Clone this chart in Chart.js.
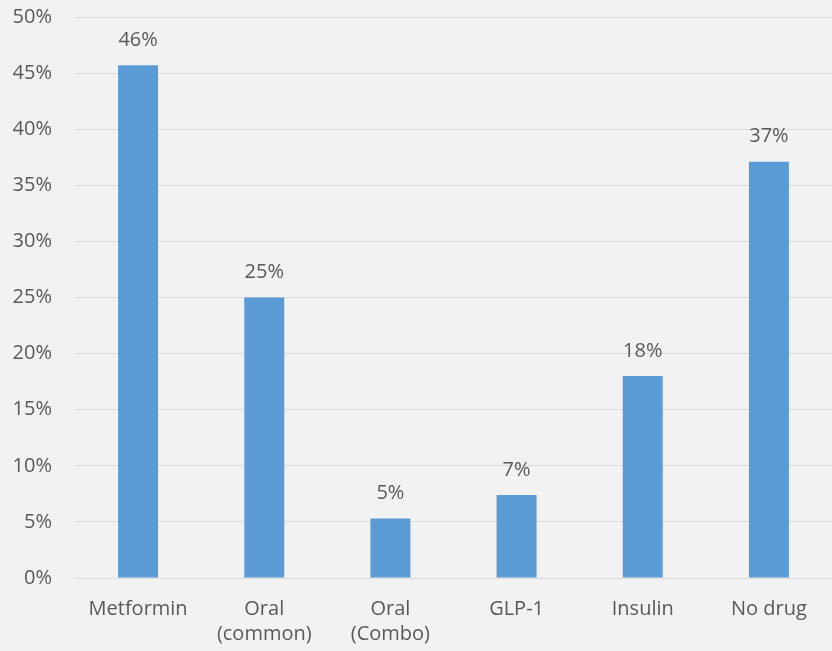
<!DOCTYPE html>
<html>
<head>
<meta charset="utf-8">
<script src="https://cdn.jsdelivr.net/npm/chart.js@4/dist/chart.umd.min.js"></script>
<style>
  html, body { margin: 0; padding: 0; background: #f2f2f2; }
  #wrap { width: 832px; height: 651px; }
</style>
</head>
<body>
<div id="wrap"><canvas id="c" width="832" height="651"></canvas></div>
<script>
// Share of patients by diabetes drug class
const categories = ['Metformin', ['Oral', '(common)'], ['Oral', '(Combo)'], 'GLP-1', 'Insulin', 'No drug'];
const shares = [45.7, 25.0, 5.3, 7.4, 18.0, 37.1];
const yTicks = [0, 5, 10, 15, 20, 25, 30, 35, 40, 45, 50];

const textColor = '#595959';
const fontFamily = '"Open Sans", "Noto Sans", sans-serif';
const fontSize = 20;

// Paint the panel background
const background = {
  id: 'background',
  beforeDraw(chart) {
    const ctx = chart.ctx;
    ctx.save();
    ctx.fillStyle = '#f2f2f2';
    ctx.fillRect(0, 0, chart.width, chart.height);
    ctx.restore();
  }
};

// Percentage labels above each bar
const valueLabels = {
  id: 'valueLabels',
  afterDatasetsDraw(chart) {
    const ctx = chart.ctx;
    const meta = chart.getDatasetMeta(0);
    const data = chart.data.datasets[0].data;
    ctx.save();
    ctx.fillStyle = textColor;
    ctx.font = fontSize + 'px ' + fontFamily;
    ctx.textAlign = 'center';
    ctx.textBaseline = 'middle';
    meta.data.forEach((bar, i) => {
      ctx.fillText(Math.round(data[i]) + '%', bar.x, bar.y - 25);
    });
    ctx.restore();
  }
};

new Chart(document.getElementById('c'), {
  type: 'bar',
  data: {
    labels: categories,
    datasets: [{
      data: shares,
      backgroundColor: '#5b9bd5',
      borderWidth: 0,
      categoryPercentage: 1,
      barPercentage: 0.317
    }]
  },
  options: {
    responsive: false,
    animation: false,
    devicePixelRatio: 1,
    layout: { padding: { top: 17, right: 0, bottom: 0, left: 0 } },
    plugins: {
      legend: { display: false },
      tooltip: { enabled: false }
    },
    scales: {
      x: {
        grid: { display: false, drawTicks: false },
        border: { display: true, color: '#d9d9d9', width: 1 },
        ticks: {
          color: textColor,
          font: { family: fontFamily, size: fontSize, lineHeight: 1.25 },
          padding: 19,
          maxRotation: 0,
          autoSkip: false
        },
        afterFit(scale) { scale.height = 73; }
      },
      y: {
        min: 0,
        max: 50,
        afterBuildTicks(scale) { scale.ticks = yTicks.map(v => ({ value: v })); },
        grid: { color: '#d9d9d9', drawTicks: true, tickLength: 23, tickColor: 'rgba(0,0,0,0)' },
        border: { display: false },
        ticks: {
          color: textColor,
          font: { family: fontFamily, size: fontSize },
          padding: 0,
          callback: v => v + '%'
        },
        afterFit(scale) { scale.width = 75; }
      }
    }
  },
  plugins: [background, valueLabels]
});
</script>
</body>
</html>
